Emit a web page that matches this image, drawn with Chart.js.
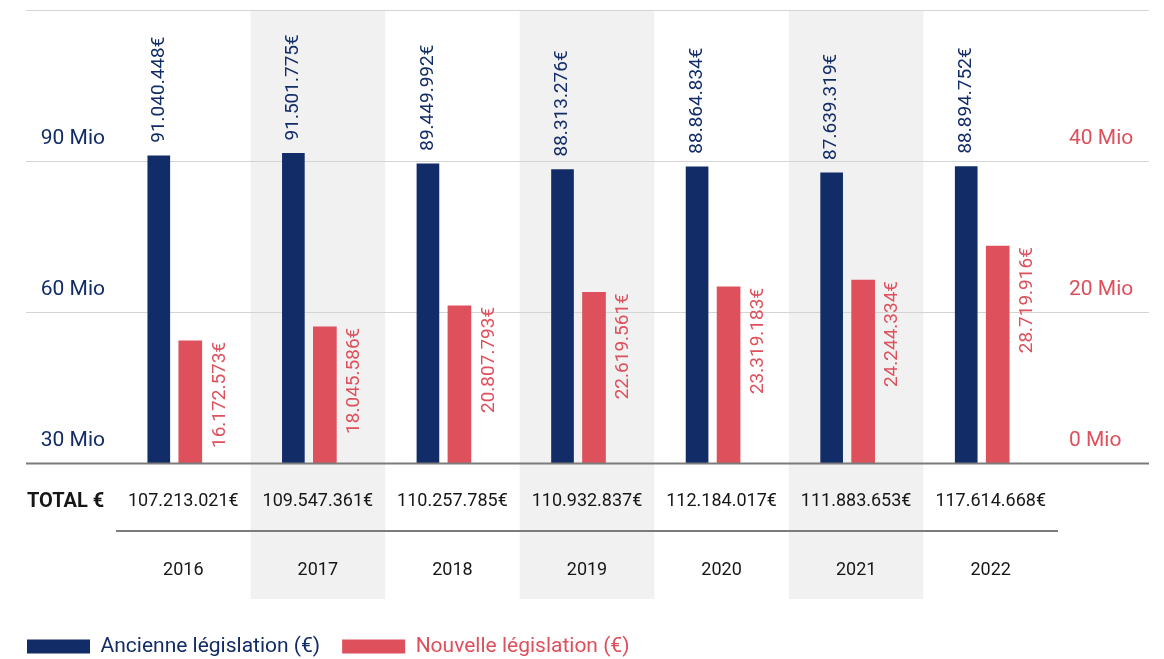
<!DOCTYPE html>
<html lang="fr">
<head>
<meta charset="utf-8">
<title>Ancienne et nouvelle législation 2016–2022</title>
<script src="https://cdn.jsdelivr.net/npm/chart.js@4/dist/chart.umd.min.js"></script>
<style>
  html, body { margin: 0; padding: 0; background: #ffffff; }
  #wrap { width: 1164px; height: 659px; }
</style>
</head>
<body>
<div id="wrap"><canvas id="chart" width="1164" height="659"></canvas></div>
<script>
// Years shown on the category axis
const years = ['2016', '2017', '2018', '2019', '2020', '2021', '2022'];
// Amounts under the old legislation (€), left axis
const ancienne = [91040448, 91501775, 89449992, 88313276, 88864834, 87639319, 88894752];
// Amounts under the new legislation (€), right axis
const nouvelle = [16172573, 18045586, 20807793, 22619561, 23319183, 24244334, 28719916];
// Yearly totals (€)
const totals = [107213021, 109547361, 110257785, 110932837, 112184017, 111883653, 117614668];
// Axis tick values
const leftTicks = [30000000, 60000000, 90000000];
const rightTicks = [0, 20000000, 40000000];

const NAVY = '#122c67';
const RED = '#dd505c';
const INK = '#161616';
const BAND = '#f1f1f1';
const GRID = '#d4d4d4';
const RULE = '#7b7b7b';
const FONT = 'Roboto, "Noto Sans", sans-serif';

// horizontal placement of each series inside its year column (in column units)
const NAVY_SHIFT = -0.182;
const RED_SHIFT = 0.052;

const euro = v => String(v).replace(/\B(?=(\d{3})+(?!\d))/g, '.') + '€';
const mio = v => (v / 1000000) + ' Mio';

Chart.defaults.font.family = FONT;

// keep the plot area exactly where the layout puts it
const noPad = s => { s.paddingTop = 0; s.paddingBottom = 0; s.paddingLeft = 0; s.paddingRight = 0; };

const decor = {
  id: 'decor',
  beforeDraw(chart) {
    const { ctx, chartArea, scales } = chart;
    const x = scales.x;
    ctx.save();
    // shaded background for every other year column
    ctx.fillStyle = BAND;
    const bandBottom = x.top + 136;
    years.forEach((_, i) => {
      if (i % 2 === 1) {
        const l = x.getPixelForValue(i - 0.5);
        const r = x.getPixelForValue(i + 0.5);
        ctx.fillRect(l, chartArea.top, r - l, bandBottom - chartArea.top);
      }
    });
    ctx.restore();
  },
  beforeDatasetsDraw(chart) {
    const { ctx, chartArea, scales } = chart;
    const y = scales.y;
    const x0 = chartArea.left - 90;
    const x1 = chartArea.right + 91;
    ctx.save();
    ctx.fillStyle = GRID;
    // light grid lines above the baseline, up to the top of the scale
    leftTicks.slice(1).concat([y.max]).forEach(v => {
      const py = Math.round(y.getPixelForValue(v));
      ctx.fillRect(x0, py, x1 - x0, 1);
    });
    ctx.restore();
  },
  afterDatasetsDraw(chart) {
    const { ctx, chartArea, scales } = chart;
    const x = scales.x;
    ctx.save();
    // baseline
    ctx.fillStyle = RULE;
    ctx.fillRect(chartArea.left - 90, chartArea.bottom - 0.5, chartArea.width + 181, 2);
    // rule between the totals row and the years row
    ctx.fillRect(chartArea.left, x.top + 67, chartArea.width, 2);

    // value labels, rotated
    ctx.textBaseline = 'middle';
    ctx.font = '19px ' + FONT;
    const m0 = chart.getDatasetMeta(0);
    m0.data.forEach((bar, i) => {
      ctx.save();
      ctx.translate(bar.x, bar.y - 13);
      ctx.rotate(-Math.PI / 2);
      ctx.textAlign = 'left';
      ctx.fillStyle = NAVY;
      ctx.fillText(euro(ancienne[i]), 0, 0);
      ctx.restore();
    });
    const m1 = chart.getDatasetMeta(1);
    m1.data.forEach((bar, i) => {
      ctx.save();
      ctx.translate(bar.x + 29.5, bar.y + 1);
      ctx.rotate(-Math.PI / 2);
      ctx.textAlign = 'right';
      ctx.fillStyle = RED;
      ctx.fillText(euro(nouvelle[i]), 0, 0);
      ctx.restore();
    });

    // row heading for the totals
    ctx.font = 'bold 20px ' + FONT;
    ctx.fillStyle = INK;
    ctx.textAlign = 'left';
    ctx.fillText('TOTAL €', 27, x.top + 38.5);
    ctx.restore();
  }
};

new Chart(document.getElementById('chart'), {
  type: 'bar',
  data: {
    datasets: [
      {
        label: 'Ancienne législation (€)',
        data: ancienne.map((v, i) => ({ x: i + NAVY_SHIFT, y: v })),
        yAxisID: 'y',
        backgroundColor: NAVY,
        barThickness: 22,
        grouped: false,
        borderWidth: 0
      },
      {
        label: 'Nouvelle législation (€)',
        data: nouvelle.map((v, i) => ({ x: i + RED_SHIFT, y: v })),
        yAxisID: 'y1',
        backgroundColor: RED,
        barThickness: 23,
        grouped: false,
        borderWidth: 0
      }
    ]
  },
  options: {
    responsive: false,
    animation: false,
    devicePixelRatio: 1,
    layout: { padding: { top: 10, left: 5, right: 0, bottom: 0 } },
    scales: {
      x: {
        type: 'linear',
        min: -0.5,
        max: 6.5,
        offset: false,
        grid: { display: false, drawTicks: false, offset: false },
        border: { display: false },
        afterBuildTicks: s => { s.ticks = years.map((_, i) => ({ value: i })); },
        afterFit: s => { s.height = 151; noPad(s); },
        ticks: {
          autoSkip: false,
          maxRotation: 0,
          padding: 21.25,
          color: INK,
          font: { size: 18, lineHeight: 34.5 / 18 },
          callback: v => [euro(totals[v]), '', years[v]]
        }
      },
      y: {
        position: 'left',
        min: 30000000,
        max: 120000000,
        grid: { display: false, drawTicks: false },
        border: { display: false },
        afterBuildTicks: s => { s.ticks = leftTicks.map(v => ({ value: v })); },
        afterFit: s => { s.width = 111; noPad(s); },
        ticks: {
          padding: 11,
          crossAlign: 'near',
          labelOffset: -22,
          color: NAVY,
          font: { size: 21 },
          callback: v => mio(v)
        }
      },
      y1: {
        position: 'right',
        min: 0,
        max: 60000000,
        grid: { display: false, drawTicks: false },
        border: { display: false },
        afterBuildTicks: s => { s.ticks = rightTicks.map(v => ({ value: v })); },
        afterFit: s => { s.width = 106; noPad(s); },
        ticks: {
          padding: 11,
          crossAlign: 'near',
          labelOffset: -22,
          color: RED,
          font: { size: 21 },
          callback: v => mio(v)
        }
      }
    },
    plugins: {
      tooltip: { enabled: false },
      legend: {
        position: 'bottom',
        align: 'start',
        maxHeight: 45,
        labels: {
          boxWidth: 63,
          boxHeight: 14,
          padding: 22,
          font: { size: 21 },
          generateLabels: chart => chart.data.datasets.map((ds, i) => ({
            text: ds.label,
            fillStyle: ds.backgroundColor,
            strokeStyle: ds.backgroundColor,
            lineWidth: 0,
            fontColor: ds.backgroundColor,
            hidden: false,
            datasetIndex: i
          }))
        }
      }
    }
  },
  plugins: [decor]
});
</script>
</body>
</html>
